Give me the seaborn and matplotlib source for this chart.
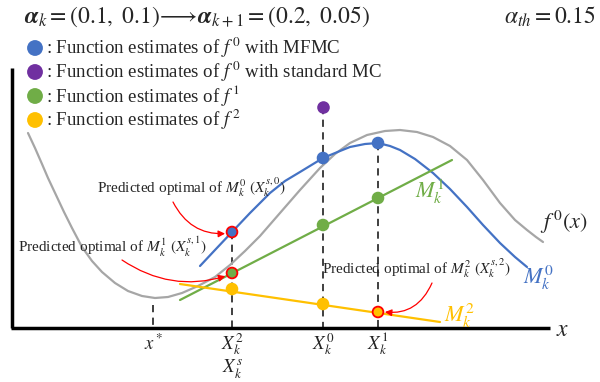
import matplotlib
matplotlib.use("Agg")
import matplotlib.pyplot as plt
import seaborn as sns
import pandas as pd

sns.set_theme(style="white")
plt.rcParams['font.family'] = ['Liberation Serif', 'DejaVu Serif']
plt.rcParams['mathtext.fontset'] = 'stix'

# ---- data (diagram units: x right, y downward) ----
f0_x = [28, 35, 42, 48, 56, 64, 72, 82, 92, 102, 115, 128, 142, 155, 168, 182, 198, 215, 230, 245, 260, 280, 300, 320, 335, 350, 367, 385, 400, 417, 433, 450, 467, 483, 500, 515, 527, 536, 543]
f0_y = [133, 148, 164, 178, 195, 212, 228, 247, 261, 272, 283, 291, 296, 298, 297, 293, 286, 277, 265, 251, 236, 213, 190, 168, 154, 143, 135, 131, 130, 132, 137, 146, 160, 180, 203, 220, 230, 237, 242]

m0_x = [200, 215, 232, 250, 270, 285, 300, 323, 340, 350, 365, 378, 390, 400, 415, 433, 450, 467, 483, 500, 515, 527]
m0_y = [266, 250, 232, 213, 193, 181, 172, 158, 151, 147, 144, 143, 146, 150, 159, 173, 189, 207, 225, 243, 257, 267]

m1_x = [180, 452]
m1_y = [300, 160]

m2_x = [180, 440]
m2_y = [284, 322]

pts_x = [232, 323, 378]
blue_y = [232, 158, 143]
green_y = [273, 225, 198]
orange_y = [289, 304, 312]
purple_x = [323]
purple_y = [107]

xstar = 153
tick_labels = [r"$x^*$", r"$X_k^2$", r"$X_k^0$", r"$X_k^1$"]
tick_pos = [154, 232, 323, 378]

legend_labels = [r": Function estimates of $f^{\,0}$ with MFMC",
                 r": Function estimates of $f^{\,0}$ with standard MC",
                 r": Function estimates of $f^{\,1}$",
                 r": Function estimates of $f^{\,2}$"]

BLUE = "#4472C4"; GREEN = "#70AD47"; ORANGE = "#FFC000"; PURPLE = "#7030A0"
GRAY = "#A6A6A6"; RED = "#FF0000"

fig = plt.figure(figsize=(6, 3.82), dpi=100)
ax = fig.add_axes([0, 0, 1, 1])

def frame():
    ax.set_xlim(0, 600)
    ax.set_ylim(382, 0)
    ax.axis("off")

frame()

# axes lines
ax.plot([12, 12], [68, 328], color="black", lw=2.5, solid_capstyle="butt")
ax.plot([11, 550], [328, 328], color="black", lw=2.5, solid_capstyle="butt")
ax.text(563, 330, r"$x$", fontsize=17, ha="center", va="center")

# dashed verticals
for x0, ytop in [(xstar, 305), (232, 232), (323, 107), (378, 143)]:
    ax.plot([x0, x0], [ytop, 328], color="#303030", lw=1.3, ls=(0, (4, 3)), zorder=1)

def line(xs, ys, color, lw=1.6):
    df = pd.DataFrame({"x": xs, "y": ys})
    sns.lineplot(data=df, x="x", y="y", sort=False, estimator=None, color=color, lw=lw,
                 ax=ax, zorder=2, solid_joinstyle="round")

line(f0_x, f0_y, GRAY, 1.6)
line(m0_x, m0_y, BLUE, 1.6)
line(m1_x, m1_y, GREEN, 1.6)
line(m2_x, m2_y, ORANGE, 1.6)
frame()

def pts(xs, ys, color, edges):
    df = pd.DataFrame({"x": xs, "y": ys})
    sns.scatterplot(data=df, x="x", y="y", color=color, s=60, edgecolor=edges, linewidth=1.3,
                    ax=ax, zorder=4, legend=False)

pts(pts_x, blue_y, BLUE, [RED, BLUE, BLUE])
pts(pts_x, green_y, GREEN, [RED, GREEN, GREEN])
pts(pts_x, orange_y, ORANGE, [ORANGE, ORANGE, RED])
pts(purple_x, purple_y, PURPLE, [PURPLE])

# legend
leg_y = [48, 72, 96, 120]
sns.scatterplot(x=[35] * 4, y=leg_y, hue=list(range(4)), palette=[BLUE, PURPLE, GREEN, ORANGE],
                s=130, linewidth=0, ax=ax, legend=False, zorder=4)
for yy, lab in zip(leg_y, legend_labels):
    ax.text(46, yy, lab, fontsize=13.6, va="center", ha="left")
frame()

# title texts
ax.text(24, 17, r"$\boldsymbol{\alpha}_k=(0.1,\ 0.1)\!\longrightarrow\!\boldsymbol{\alpha}_{k+1}=(0.2,\ 0.05)$",
        fontsize=17, va="center", ha="left")
ax.text(596, 17, r"$\alpha_{th}=0.15$", fontsize=17, va="center", ha="right")

# curve labels
ax.text(564, 222, r"$f^{\,0}(x)$", fontsize=16, va="center", ha="center")
ax.text(430, 192, r"$M_k^1$", fontsize=16, va="center", ha="center", color=GREEN)
ax.text(538, 278, r"$M_k^0$", fontsize=16, va="center", ha="center", color=BLUE)
ax.text(459, 316, r"$M_k^2$", fontsize=16, va="center", ha="center", color=ORANGE)

# x tick labels
for xp, lab in zip(tick_pos, tick_labels):
    ax.text(xp, 344, lab, fontsize=13.5, ha="center", va="center")
ax.text(232, 369, r"$X_k^s$", fontsize=13.5, ha="center", va="center")

# annotations
ax.text(97, 187, r"Predicted optimal of $M_k^0\ (X_k^{s,0})$", fontsize=11, va="center", ha="left")
ax.text(18, 247, r"Predicted optimal of $M_k^1\ (X_k^{s,1})$", fontsize=11, va="center", ha="left")
ax.text(322, 268, r"Predicted optimal of $M_k^2\ (X_k^{s,2})$", fontsize=11, va="center", ha="left")

arrow = dict(arrowstyle="-|>", color=RED, lw=0.9, mutation_scale=10, shrinkA=0, shrinkB=5)
ax.annotate("", xy=(232, 233), xytext=(173, 202),
            arrowprops=dict(arrow, connectionstyle="arc3,rad=0.35"))
ax.annotate("", xy=(232, 274), xytext=(122, 260),
            arrowprops=dict(arrow, connectionstyle="arc3,rad=0.25"))
ax.annotate("", xy=(378, 311), xytext=(432, 283),
            arrowprops=dict(arrow, connectionstyle="arc3,rad=-0.4"))

fig.savefig("out.png", dpi=100)
